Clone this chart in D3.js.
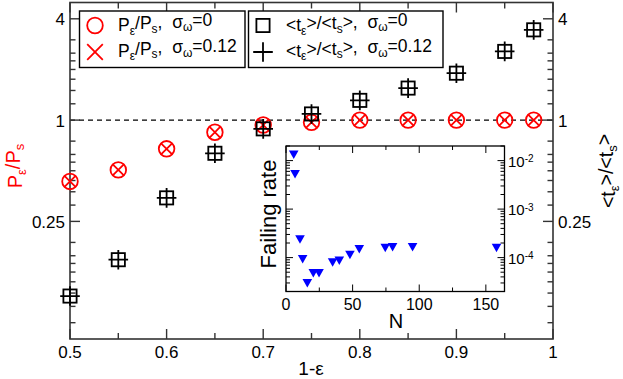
<!DOCTYPE html>
<html>
<head>
<meta charset="utf-8">
<script src="https://cdnjs.cloudflare.com/ajax/libs/d3/7.8.5/d3.min.js"></script>
<style>
  body { margin: 0; background: #fff; }
  text { font-family: "Liberation Sans", Arial, sans-serif; }
</style>
</head>
<body>
<svg id="chart" width="623" height="379"></svg>
<script>
// main plot data (1-eps on x)
var oneMinusEps = [0.5, 0.55, 0.6, 0.65, 0.7, 0.75, 0.8, 0.85, 0.9, 0.95, 0.98];
var pRatioS0    = [0.432, 0.506, 0.675, 0.847, 0.935, 0.97, 1.0, 1.0, 1.0, 1.0, 1.0];
var pRatioS12   = [0.432, 0.506, 0.675, 0.847, 0.935, 0.97, 1.0, 1.0, 1.0, 1.0, 1.0];
var tRatioS0    = [0.09, 0.148, 0.345, 0.635, 0.887, 1.088, 1.31, 1.55, 1.9, 2.56, 3.44];
var tRatioS12   = [0.09, 0.148, 0.345, 0.635, 0.887, 1.088, 1.31, 1.55, 1.9, 2.56, 3.44];

var xTicks = [0.5, 0.6, 0.7, 0.8, 0.9, 1];
var xMinor = [0.55, 0.65, 0.75, 0.85, 0.95];
var yTicks = [0.25, 1, 4];
var yMinorFactors = [1.25, 1.5, 1.75, 2, 2.25, 2.5, 3];

// inset data
var insetN    = [5.8, 6.8, 10.5, 12.5, 16, 20.5, 24.8, 35, 40, 48, 55, 74.5, 80, 95, 158];
var insetRate = [0.0133, 0.0053, 2.4e-4, 9.4e-5, 3.0e-5, 4.8e-5, 4.8e-5, 8.0e-5, 8.7e-5, 1.15e-4, 1.5e-4, 1.6e-4, 1.65e-4, 1.65e-4, 1.6e-4];
var insetXTicks = [0, 50, 100, 150];
var insetXMinor = [25, 75, 125];
var insetYTicks = [1e-4, 1e-3, 1e-2];
var insetYExp = ["-4", "-3", "-2"];

var svg = d3.select("#chart");
var pLeft = 70, pRight = 553, pTop = 2.5, pBottom = 339;

var x = d3.scaleLinear().domain([0.5, 1]).range([pLeft, pRight]);
var y = d3.scaleLog().domain([0.05, 5]).range([pBottom, pTop]);

var axisColor = "#333";

// rich text helper: parts = [[str, "sub"|"sup"|null], ...]
function rich(sel, parts, subSize) {
  parts.forEach(function(p, i) {
    var prev = i > 0 ? parts[i - 1][1] : null;
    var dy = 0;
    if (prev === "sub") dy -= 0.3; if (prev === "sup") dy += 0.45;
    if (p[1] === "sub") dy += 0.3; if (p[1] === "sup") dy -= 0.45;
    var t = sel.append("tspan").text(p[0]);
    if (dy !== 0) t.attr("dy", dy + "em");
    if (p[1]) t.style("font-size", subSize + "px");
  });
  return sel;
}

// dashed line at 1
svg.append("line")
  .attr("x1", pLeft).attr("x2", pRight)
  .attr("y1", y(1)).attr("y2", y(1))
  .attr("stroke", "#000").attr("stroke-width", 1.2)
  .attr("stroke-dasharray", "5,4");

// frame
svg.append("rect")
  .attr("x", pLeft).attr("y", pTop)
  .attr("width", pRight - pLeft).attr("height", pBottom - pTop)
  .attr("fill", "none").attr("stroke", axisColor).attr("stroke-width", 1.6);

// x ticks (bottom and top, inward)
var ticks = svg.append("g").attr("stroke", axisColor).attr("stroke-width", 1.4);
xTicks.forEach(function(v) {
  ticks.append("line").attr("x1", x(v)).attr("x2", x(v)).attr("y1", pBottom).attr("y2", pBottom - 10);
  ticks.append("line").attr("x1", x(v)).attr("x2", x(v)).attr("y1", pTop).attr("y2", pTop + 10);
});
xMinor.forEach(function(v) {
  ticks.append("line").attr("x1", x(v)).attr("x2", x(v)).attr("y1", pBottom).attr("y2", pBottom - 6);
  ticks.append("line").attr("x1", x(v)).attr("x2", x(v)).attr("y1", pTop).attr("y2", pTop + 6);
});
// y ticks (left and right, inward)
yTicks.forEach(function(v) {
  ticks.append("line").attr("x1", pLeft).attr("x2", pLeft + 10).attr("y1", y(v)).attr("y2", y(v));
  ticks.append("line").attr("x1", pRight).attr("x2", pRight - 10).attr("y1", y(v)).attr("y2", y(v));
});
[0.0625, 0.25, 1].forEach(function(base) {
  var vals = base === 0.0625 ? [1].concat(yMinorFactors) : yMinorFactors;
  vals.forEach(function(f) {
    var v = base * f;
    ticks.append("line").attr("x1", pLeft).attr("x2", pLeft + 5.5).attr("y1", y(v)).attr("y2", y(v));
    ticks.append("line").attr("x1", pRight).attr("x2", pRight - 5.5).attr("y1", y(v)).attr("y2", y(v));
  });
});

// tick labels
xTicks.forEach(function(v) {
  svg.append("text").attr("x", x(v)).attr("y", 358)
    .attr("text-anchor", "middle").style("font-size", "17px")
    .text(v === 1 ? "1" : v.toFixed(1));
});
yTicks.forEach(function(v) {
  svg.append("text").attr("x", 65).attr("y", y(v) + 6.5)
    .attr("text-anchor", "end").style("font-size", "17px").text(v);
  svg.append("text").attr("x", 558).attr("y", y(v) + 6.5)
    .attr("text-anchor", "start").style("font-size", "17px").text(v);
});

// axis titles
svg.append("text").attr("x", 311).attr("y", 375)
  .attr("text-anchor", "middle").style("font-size", "19px").text("1-ε");
rich(svg.append("text")
  .attr("transform", "translate(22,166) rotate(-90)")
  .attr("text-anchor", "middle").attr("fill", "#ff0000").style("font-size", "20px"),
  [["P", null], ["ε", "sub"], ["/P", null], ["s", "sub"]], 13);
rich(svg.append("text")
  .attr("transform", "translate(615,171) rotate(-90)")
  .attr("text-anchor", "middle").style("font-size", "19.5px"),
  [["<t", null], ["ε", "sub"], [">/<t", null], ["s", "sub"], [">", null]], 13);

// markers
function circleMark(g, cx, cy) {
  g.append("circle").attr("cx", cx).attr("cy", cy).attr("r", 7.8)
    .attr("fill", "none").attr("stroke", "#ff0000").attr("stroke-width", 1.8);
}
function crossMark(g, cx, cy, h) {
  g.append("path").attr("d", "M" + (cx - h) + "," + (cy - h) + "L" + (cx + h) + "," + (cy + h) +
    "M" + (cx - h) + "," + (cy + h) + "L" + (cx + h) + "," + (cy - h))
    .attr("stroke", "#ff0000").attr("stroke-width", 1.8).attr("fill", "none");
}
function squareMark(g, cx, cy) {
  g.append("rect").attr("x", cx - 6.6).attr("y", cy - 6.6).attr("width", 13.2).attr("height", 13.2)
    .attr("fill", "none").attr("stroke", "#000").attr("stroke-width", 1.8);
}
function plusMark(g, cx, cy) {
  g.append("path").attr("d", "M" + (cx - 9.8) + "," + cy + "L" + (cx + 9.8) + "," + cy +
    "M" + cx + "," + (cy - 9.8) + "L" + cx + "," + (cy + 9.8))
    .attr("stroke", "#000").attr("stroke-width", 1.8).attr("fill", "none");
}

var marks = svg.append("g");
oneMinusEps.forEach(function(v, i) {
  circleMark(marks, x(v), y(pRatioS0[i]));
  crossMark(marks, x(v), y(pRatioS12[i]), 5.8);
});
oneMinusEps.forEach(function(v, i) {
  squareMark(marks, x(v), y(tRatioS0[i]));
  plusMark(marks, x(v), y(tRatioS12[i]));
});

// legends
var lg = svg.append("g");
lg.append("rect").attr("x", 79.5).attr("y", 11).attr("width", 165.5).attr("height", 56.5)
  .attr("fill", "#fff").attr("stroke", "#000").attr("stroke-width", 1.4);
lg.append("rect").attr("x", 248.5).attr("y", 11).attr("width", 194.5).attr("height", 56.5)
  .attr("fill", "#fff").attr("stroke", "#000").attr("stroke-width", 1.4);
circleMark(lg, 95, 25.5);
crossMark(lg, 95, 52, 7.8);
squareMark(lg, 263, 25.5);
plusMark(lg, 263, 52);

function legendText(xp, yp, parts) {
  rich(svg.append("text").attr("x", xp).attr("y", yp)
    .style("font-size", "17.5px").style("white-space", "pre"), parts, 12);
}
legendText(118, 31, [["P", null], ["ε", "sub"], ["/P", null], ["s", "sub"], [",  σ", null], ["ω", "sub"], ["=0", null]]);
legendText(118, 56.5, [["P", null], ["ε", "sub"], ["/P", null], ["s", "sub"], [",  σ", null], ["ω", "sub"], ["=0.12", null]]);
legendText(286, 31, [["<t", null], ["ε", "sub"], [">/<t", null], ["s", "sub"], [">,  σ", null], ["ω", "sub"], ["=0", null]]);
legendText(286, 56.5, [["<t", null], ["ε", "sub"], [">/<t", null], ["s", "sub"], [">,  σ", null], ["ω", "sub"], ["=0.12", null]]);

// inset
var iL = 286, iR = 504.5, iT = 146, iB = 291.5;
var ix = d3.scaleLinear().domain([0, 164]).range([iL, iR]);
var iy = d3.scaleLog().domain([2e-5, 2e-2]).range([iB, iT]);

var inset = svg.append("g");
inset.append("rect").attr("x", iL).attr("y", iT).attr("width", iR - iL).attr("height", iB - iT)
  .attr("fill", "#fff").attr("stroke", "#000").attr("stroke-width", 1.3);

var it = inset.append("g").attr("stroke", "#000").attr("stroke-width", 1);
insetXTicks.forEach(function(v) {
  it.append("line").attr("x1", ix(v)).attr("x2", ix(v)).attr("y1", iB).attr("y2", iB - 7);
  it.append("line").attr("x1", ix(v)).attr("x2", ix(v)).attr("y1", iT).attr("y2", iT + 7);
});
insetXMinor.forEach(function(v) {
  it.append("line").attr("x1", ix(v)).attr("x2", ix(v)).attr("y1", iB).attr("y2", iB - 4);
  it.append("line").attr("x1", ix(v)).attr("x2", ix(v)).attr("y1", iT).attr("y2", iT + 4);
});
[1e-5, 1e-4, 1e-3, 1e-2].forEach(function(dec) {
  for (var k = 1; k <= 9; k++) {
    var v = dec * k;
    if (v < 2e-5 || v > 2e-2) continue;
    var len = k === 1 ? 7 : 4;
    it.append("line").attr("x1", iL).attr("x2", iL + len).attr("y1", iy(v)).attr("y2", iy(v));
    it.append("line").attr("x1", iR).attr("x2", iR - len).attr("y1", iy(v)).attr("y2", iy(v));
  }
});

insetXTicks.forEach(function(v) {
  inset.append("text").attr("x", ix(v)).attr("y", 310)
    .attr("text-anchor", "middle").style("font-size", "16px").text(v);
});
insetYTicks.forEach(function(v, i) {
  rich(inset.append("text").attr("x", 508).attr("y", iy(v) + 6)
    .style("font-size", "15px"), [["10", null], [insetYExp[i], "sup"]], 10);
});
inset.append("text").attr("x", 396).attr("y", 328)
  .attr("text-anchor", "middle").style("font-size", "20px").text("N");
inset.append("text").attr("transform", "translate(276,214) rotate(-90)")
  .attr("text-anchor", "middle").style("font-size", "22px").text("Failing rate");

insetN.forEach(function(n, i) {
  var cx = ix(n), cy = iy(insetRate[i]);
  inset.append("path")
    .attr("d", "M" + (cx - 4.8) + "," + (cy - 4) + "L" + (cx + 4.8) + "," + (cy - 4) + "L" + cx + "," + (cy + 4.5) + "Z")
    .attr("fill", "#0000ff");
});
</script>
</body>
</html>
